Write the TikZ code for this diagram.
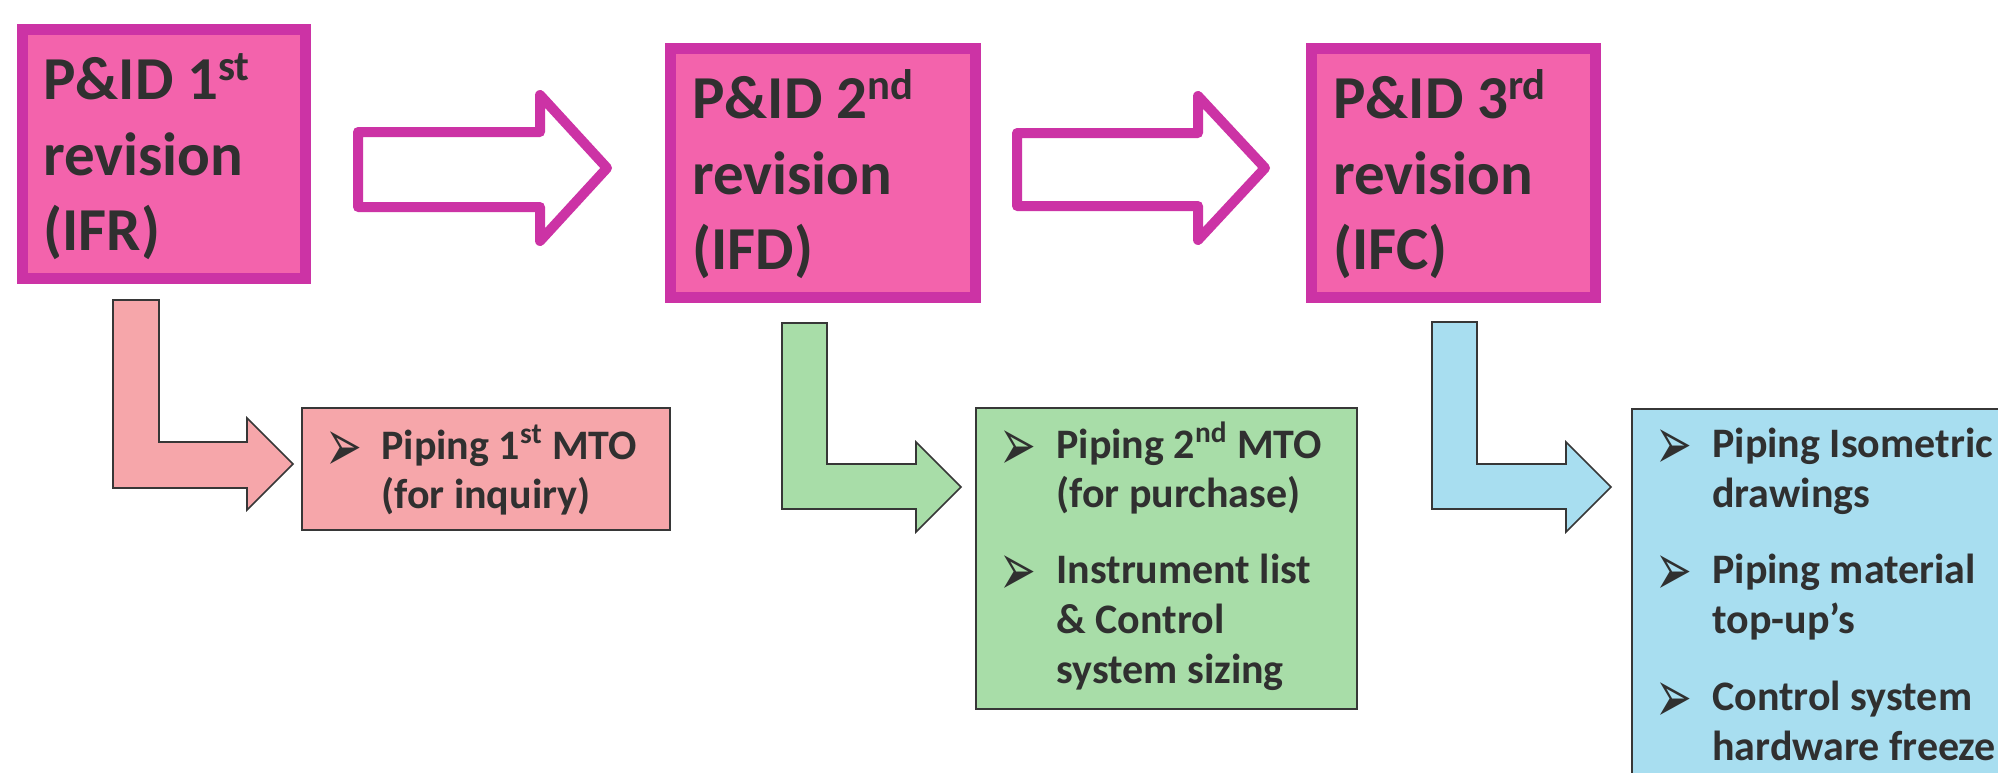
\documentclass[tikz,border=0pt]{standalone}
\usepackage{fontspec}
\setmainfont{Carlito}
\newfontfamily\bulletfont{DejaVu Sans}
\definecolor{mag}{RGB}{204,51,165}
\definecolor{hot}{RGB}{243,99,172}
\definecolor{txt}{RGB}{48,48,48}
\definecolor{edge}{RGB}{55,55,55}
\definecolor{salmon}{RGB}{246,166,170}
\definecolor{mint}{RGB}{168,221,168}
\definecolor{sky}{RGB}{168,222,240}
\newcommand{\arrowbullet}{\scalebox{1}[1.7]{➢}}
\begin{document}
\begin{tikzpicture}[x=0.5pt,y=-0.5pt,
  hdr/.style={anchor=base west, inner sep=0pt, font=\fontsize{30.5}{36}\selectfont\bfseries, text=txt},
  itm/.style={anchor=base west, inner sep=0pt, font=\fontsize{21}{25}\selectfont\bfseries, text=txt},
  bul/.style={anchor=base west, inner sep=0pt, font=\bulletfont\fontsize{22}{24}\selectfont, text=txt},
  revbox/.style={draw=mag, fill=hot, line width=5.5pt},
  bigarrow/.style={draw=mag, fill=white, line width=5pt, line join=round},
  larrow/.style={draw=edge, line width=0.8pt, line join=miter},
  infobox/.style={draw=edge, line width=1pt}]
\clip (0,0) rectangle (1998,772);
\fill[white] (0,0) rectangle (1998,772);

% revision boxes
\draw[revbox] (22.5,29.5) rectangle (305.5,278.5);
\draw[revbox] (670.5,48.5) rectangle (975.5,297.5);
\draw[revbox] (1311.5,48.5) rectangle (1595.5,297.5);

\node[hdr] (h1a) at (43,99) {P\&ID 1\textsuperscript{st}};
\node[hdr] (h1b) at (43,175) {revision};
\node[hdr] (h1c) at (43,250) {(IFR)};
\node[hdr] (h2a) at (692,118) {P\&ID 2\textsuperscript{nd}};
\node[hdr] (h2b) at (692,194) {revision};
\node[hdr] (h2c) at (692,269) {(IFD)};
\node[hdr] (h3a) at (1333,118) {P\&ID 3\textsuperscript{rd}};
\node[hdr] (h3b) at (1333,194) {revision};
\node[hdr] (h3c) at (1333,269) {(IFC)};

% big hollow arrows
\draw[bigarrow] (358,132) -- (540,132) -- (540,95) -- (607,168) -- (540,241) -- (540,207) -- (358,207) -- cycle;
\draw[bigarrow] (1017,133) -- (1198,133) -- (1198,96) -- (1265,168) -- (1198,240) -- (1198,206) -- (1017,206) -- cycle;

% L-shaped arrows
\draw[larrow, fill=salmon] (113,300) -- (159,300) -- (159,442) -- (247,442) -- (247,418) -- (293,464) -- (247,510) -- (247,488) -- (113,488) -- cycle;
\draw[larrow, fill=mint] (782,323) -- (827,323) -- (827,464) -- (916,464) -- (916,442) -- (961,487) -- (916,532) -- (916,509) -- (782,509) -- cycle;
\draw[larrow, fill=sky] (1432,322) -- (1477,322) -- (1477,464) -- (1566,464) -- (1566,442) -- (1611,487) -- (1566,532) -- (1566,509) -- (1432,509) -- cycle;

% info boxes
\draw[infobox, fill=salmon] (302,408) rectangle (670,530);
\draw[infobox, fill=mint] (976,408) rectangle (1357,709);
\draw[infobox, fill=sky] (1632,409) rectangle (2010,790);

% pink items
\node[bul] (b1) at (325,471) {\arrowbullet};
\node[itm] (p1a) at (381,459) {Piping 1\textsuperscript{st} MTO};
\node[itm] (p1b) at (381,508) {(for inquiry)};

% green items
\node[bul] (b2) at (999,470) {\arrowbullet};
\node[itm] (g1a) at (1056,458) {Piping 2\textsuperscript{nd} MTO};
\node[itm] (g1b) at (1056,507) {(for purchase)};
\node[bul] (b3) at (999,595) {\arrowbullet};
\node[itm] (g2a) at (1056,583) {Instrument list};
\node[itm] (g2b) at (1056,633) {\& Control};
\node[itm] (g2c) at (1056,683) {system sizing};

% blue items
\node[bul] (b4) at (1655,469) {\arrowbullet};
\node[itm] (c1a) at (1712,457) {Piping Isometric};
\node[itm] (c1b) at (1712,507) {drawings};
\node[bul] (b5) at (1655,595) {\arrowbullet};
\node[itm] (c2a) at (1712,583) {Piping material};
\node[itm] (c2b) at (1712,633) {top-up’s};
\node[bul] (b6) at (1655,722) {\arrowbullet};
\node[itm] (c3a) at (1712,710) {Control system};
\node[itm] (c3b) at (1712,760) {hardware freeze};
\end{tikzpicture}
\end{document}
